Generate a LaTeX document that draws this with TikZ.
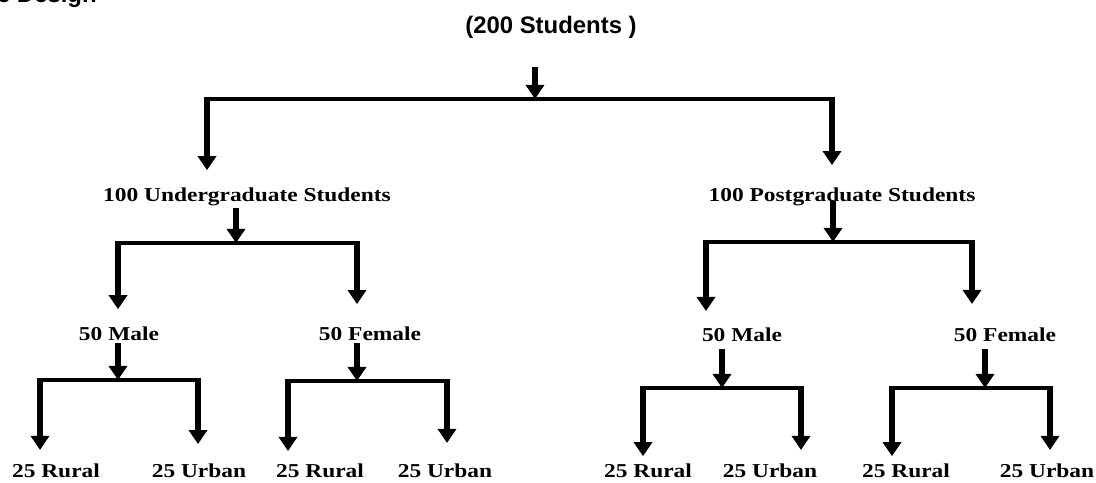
\documentclass[tikz,border=0pt]{standalone}
\usepackage{fontspec}
\setmainfont{Liberation Serif}
\newfontfamily\headfont{Liberation Sans}
\newfontfamily\labfont{Liberation Serif}[FakeStretch=1.19]
\usetikzlibrary{arrows.meta}

\begin{document}
\begin{tikzpicture}[x=0.025cm, y=-0.025cm, >={Triangle[width=12.8pt,length=10pt]}]
\tikzset{
  lab/.style={font=\labfont\fontsize{14}{16}\selectfont\bfseries, inner sep=0pt, anchor=base},
  head/.style={font=\headfont\fontsize{17}{20}\selectfont\bfseries, inner sep=0pt, anchor=base},
  bar/.style={line width=2.8pt},
  arr/.style={->, line width=4.2pt}
}
\useasboundingbox (0,0) rectangle (1096,482);

% Labels
\node[head, anchor=base east] (title) at (97,2) {e Design};
\node[head] (all) at (551,33) {(200 Students )};
\node[lab] (ug) at (247,201) {100 Undergraduate Students};
\node[lab] (pg) at (842,201) {100 Postgraduate Students};
\node[lab] (um) at (119,340) {50 Male};
\node[lab] (uf) at (370,340) {50 Female};
\node[lab] (pm) at (742,341) {50 Male};
\node[lab] (pf) at (1005,341) {50 Female};
\node[lab] (umr) at (56,477) {25 Rural};
\node[lab] (umu) at (199,477) {25 Urban};
\node[lab] (ufr) at (320,477) {25 Rural};
\node[lab] (ufu) at (445,477) {25 Urban};
\node[lab] (pmr) at (648,477) {25 Rural};
\node[lab] (pmu) at (770,477) {25 Urban};
\node[lab] (pfr) at (906,477) {25 Rural};
\node[lab] (pfu) at (1047,477) {25 Urban};

% Junctions on the bars
\coordinate (j0) at (535,99);  \coordinate (j0L) at (207,99);  \coordinate (j0R) at (832,99);
\coordinate (j1) at (236,243); \coordinate (j1L) at (118,243); \coordinate (j1R) at (357,243);
\coordinate (j2) at (833,242); \coordinate (j2L) at (706,242); \coordinate (j2R) at (972,242);
\coordinate (j3) at (118,380); \coordinate (j3L) at (40,380);  \coordinate (j3R) at (198,380);
\coordinate (j4) at (357,381); \coordinate (j4L) at (288,381); \coordinate (j4R) at (447,381);
\coordinate (j5) at (722,388); \coordinate (j5L) at (643,388); \coordinate (j5R) at (801,388);
\coordinate (j6) at (985,388); \coordinate (j6L) at (892,388); \coordinate (j6R) at (1050,388);

% 200 students
\draw[arr, shorten <=20.6pt] (j0 |- all.south) -- (j0);
\draw[bar] (j0L) -- (j0R);
\draw[arr, shorten >=12pt] ([yshift=1.4pt]j0L) -- (j0L |- ug.north);
\draw[arr, shorten >=15.6pt] ([yshift=1.4pt]j0R) -- (j0R |- pg.north);

% Undergraduate
\draw[arr, shorten <=2pt] (j1 |- ug.south) -- (j1);
\draw[bar] (j1L) -- (j1R);
\draw[arr, shorten >=12pt] ([yshift=1.4pt]j1L) -- (j1L |- um.north);
\draw[arr, shorten >=15.6pt] ([yshift=1.4pt]j1R) -- (j1R |- uf.north);

% Postgraduate
\draw[arr, shorten <=-3.6pt] (j2 |- pg.south) -- (j2);
\draw[bar] (j2L) -- (j2R);
\draw[arr, shorten >=11.4pt] ([yshift=1.4pt]j2L) -- (j2L |- pm.north);
\draw[arr, shorten >=16.4pt] ([yshift=1.4pt]j2R) -- (j2R |- pf.north);

% Undergraduate male / female
\draw[arr, shorten <=2pt] (j3 |- um.south) -- (j3);
\draw[bar] (j3L) -- (j3R);
\draw[arr, shorten >=9.3pt] ([yshift=1.4pt]j3L) -- (j3L |- umr.north);
\draw[arr, shorten >=13.5pt] ([yshift=1.4pt]j3R) -- (j3R |- umu.north);

\draw[arr, shorten <=2pt] (j4 |- uf.south) -- (j4);
\draw[bar] (j4L) -- (j4R);
\draw[arr, shorten >=8.6pt] ([yshift=1.4pt]j4L) -- (j4L |- ufr.north);
\draw[arr, shorten >=14.3pt] ([yshift=1.4pt]j4R) -- (j4R |- ufu.north);

% Postgraduate male / female
\draw[arr, shorten <=5pt] (j5 |- pm.south) -- (j5);
\draw[bar] (j5L) -- (j5R);
\draw[arr, shorten >=4.9pt] ([yshift=1.4pt]j5L) -- (j5L |- pmr.north);
\draw[arr, shorten >=9.3pt] ([yshift=1.4pt]j5R) -- (j5R |- pmu.north);

\draw[arr, shorten <=5.7pt] (j6 |- pf.south) -- (j6);
\draw[bar] (j6L) -- (j6R);
\draw[arr, shorten >=4.9pt] ([yshift=1.4pt]j6L) -- (j6L |- pfr.north);
\draw[arr, shorten >=9.3pt] ([yshift=1.4pt]j6R) -- (j6R |- pfu.north);
\end{tikzpicture}
\end{document}
